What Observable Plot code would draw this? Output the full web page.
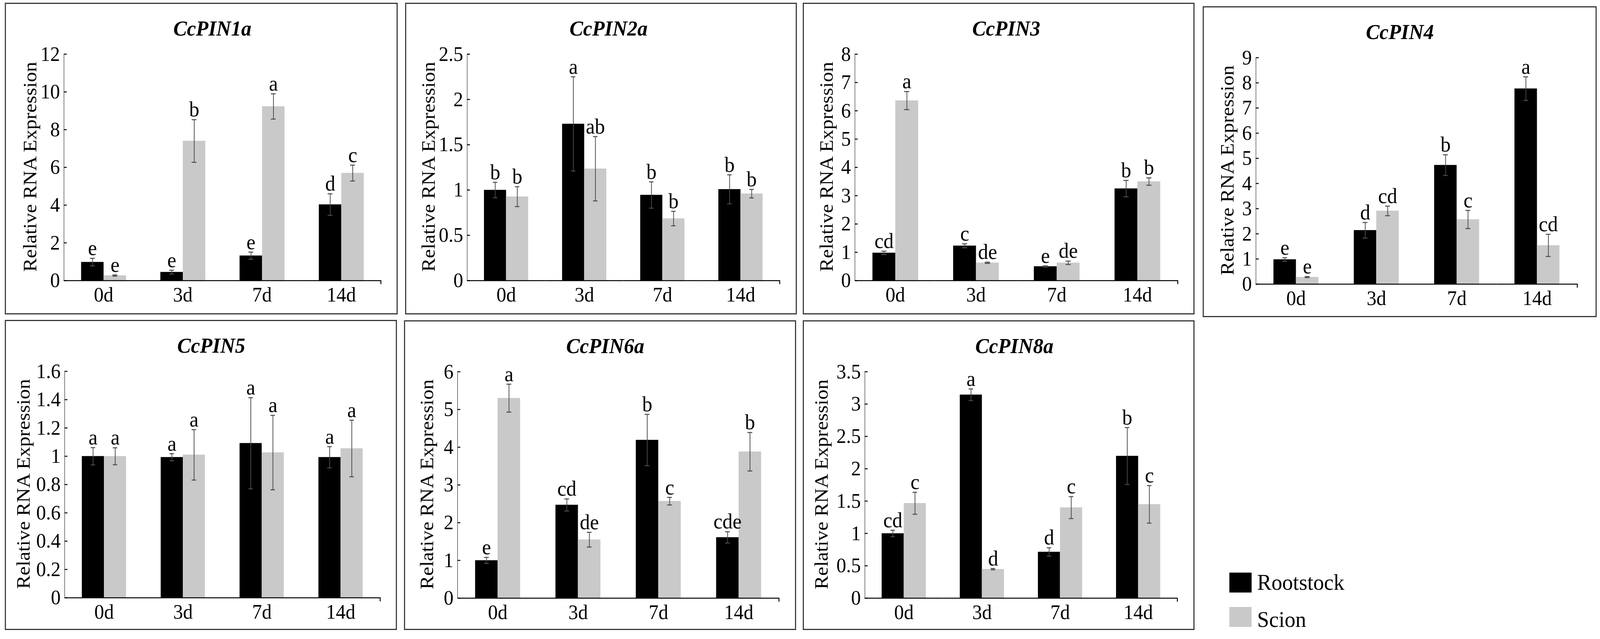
<!DOCTYPE html>
<html><head><meta charset="utf-8">
<script src="https://cdn.jsdelivr.net/npm/d3@7"></script>
<script src="https://cdn.jsdelivr.net/npm/@observablehq/plot@0.6"></script>
<style>
html,body{margin:0;padding:0;background:#fff;overflow:hidden;}
body{font-family:"Liberation Serif","Times New Roman",serif;color:#000;}
#root{position:absolute;left:0;top:0;width:4317px;height:1636px;transform-origin:0 0;overflow:hidden;background:#fff;}
.panel{position:absolute;border:3px solid #383838;box-sizing:border-box;background:#fff;}
.panel svg{position:absolute;left:-3px;top:-3px;}
.panel svg, .panel svg text{font-family:"Liberation Serif","Times New Roman",serif !important;}
.panel svg g[aria-label^="y-axis"] path, .panel svg g[aria-label^="y-axis"] line{stroke-width:2.5px;}
.title{position:absolute;font-family:"Liberation Serif",serif;font-weight:bold;font-style:italic;font-size:55px;line-height:55px;white-space:nowrap;transform:translateX(-50%);}
.ytitle{position:absolute;font-family:"Liberation Serif",serif;font-size:52px;line-height:52px;white-space:nowrap;transform:translate(-50%,-50%) rotate(-90deg);}
.leg{position:absolute;font-family:"Liberation Serif",serif;font-size:58px;line-height:58px;white-space:nowrap;}
.sw{position:absolute;width:60px;height:51px;}
</style></head><body>
<div id="root"></div>
<script>
// ---- data ----
const genes = ["CcPIN1a","CcPIN2a","CcPIN3","CcPIN4","CcPIN5","CcPIN6a","CcPIN8a"];
const days = ["0d","3d","7d","14d"];
const seriesNames = ["Rootstock","Scion"];
const rootstockMean = [
  [0.98, 0.45, 1.32, 4.03],
  [1.00, 1.73, 0.945, 1.008],
  [0.98, 1.23, 0.50, 3.25],
  [0.98, 2.14, 4.73, 7.77],
  [1.00, 0.993, 1.092, 0.993],
  [1.00, 2.47, 4.19, 1.61],
  [1.00, 3.144, 0.714, 2.197]
];
const scionMean = [
  [0.27, 7.40, 9.23, 5.70],
  [0.927, 1.235, 0.685, 0.96],
  [6.36, 0.63, 0.63, 3.50],
  [0.28, 2.91, 2.57, 1.54],
  [1.00, 1.01, 1.026, 1.055],
  [5.30, 1.55, 2.57, 3.88],
  [1.467, 0.448, 1.40, 1.45]
];
const rootstockErr = [
  [0.20, 0.10, 0.19, 0.57],
  [0.085, 0.52, 0.145, 0.16],
  [0.06, 0.07, 0.02, 0.29],
  [0.07, 0.31, 0.41, 0.47],
  [0.061, 0.025, 0.322, 0.075],
  [0.08, 0.16, 0.68, 0.15],
  [0.05, 0.09, 0.065, 0.44]
];
const scionErr = [
  [0.03, 1.13, 0.67, 0.42],
  [0.11, 0.355, 0.08, 0.047],
  [0.32, 0.02, 0.06, 0.13],
  [0.02, 0.19, 0.36, 0.44],
  [0.06, 0.178, 0.263, 0.20],
  [0.37, 0.195, 0.10, 0.51],
  [0.17, 0.01, 0.17, 0.29]
];
const rootstockLetters = [
  ["e","e","e","d"],
  ["b","a","b","b"],
  ["cd","c","e","b"],
  ["e","d","b","a"],
  ["a","a","a","a"],
  ["e","cd","b","cde"],
  ["cd","a","d","b"]
];
const scionLetters = [
  ["e","b","a","c"],
  ["b","ab","b","b"],
  ["a","de","de","b"],
  ["e","cd","c","cd"],
  ["a","a","a","a"],
  ["a","de","c","b"],
  ["c","d","c","c"]
];
const yMax = [12, 2.5, 8, 9, 1.6, 6, 3.5];
const yStep = [2, 0.5, 1, 1, 0.2, 1, 0.5];
const yAxisLabel = "Relative RNA Expression";

// ---- layout ----
const PAGE_W = 4317, PAGE_H = 1636;
const panelX = [13, 1093, 2166, 3245, 13, 1090, 2166];
const panelY = [7, 7, 7, 16, 819, 820, 820];
const panelW = [1060, 1057, 1057, 1063, 1058, 1058, 1057];
const panelH = [798, 798, 798, 796, 794, 793, 793];
const plotLeft = [159, 166, 141, 143, 162, 143, 166];
const plotRight = [1020, 1017, 1017, 1017, 1018, 1018, 1017];
const titleCx = [560, 549, 549, 532, 557, 543, 571];
const yTitleCx = [68, 63, 64, 66, 50, 62, 50];
const colors = ["#000000", "#c9c9c9"];
const errColor = "#4a4a4a";

const root = document.getElementById("root");
function fit() {
  const sx = Math.min(1, window.innerWidth / PAGE_W);
  const sy = Math.min(1, window.innerHeight / PAGE_H);
  root.style.transform = `scale(${sx}, ${sy})`;
}
fit();
window.addEventListener("resize", fit);

const endTick = {draw(context, l) { context.moveTo(0, 0); context.lineTo(0, l); }};

genes.forEach((gene, g) => {
  const panel = document.createElement("div");
  panel.className = "panel";
  Object.assign(panel.style, {left: panelX[g]+"px", top: panelY[g]+"px", width: panelW[g]+"px", height: panelH[g]+"px"});
  root.appendChild(panel);

  const data = days.flatMap((d, i) => seriesNames.map((s, j) => ({
    day: d, series: s,
    value: (j ? scionMean : rootstockMean)[g][i],
    err: (j ? scionErr : rootstockErr)[g][i],
    letter: (j ? scionLetters : rootstockLetters)[g][i]
  })));
  const ticks = d3.range(0, yMax[g] + 1e-9, yStep[g]).map(v => +v.toFixed(2));
  const W = panelW[g];
  const svg = Plot.plot({
    width: W, height: 790,
    marginTop: 132, marginBottom: 75, marginLeft: plotLeft[g], marginRight: W - plotRight[g],
    style: {fontFamily: '"Liberation Serif", "Times New Roman", serif', fontSize: "53px", color: "#000", background: "transparent", overflow: "visible"},
    fx: {domain: days, padding: 0, axis: "bottom", label: null, tickSize: 0, tickPadding: 16},
    x: {domain: seriesNames, paddingInner: 0, paddingOuter: 0.76, axis: null},
    y: {domain: [0, yMax[g]], ticks, tickFormat: d => String(d), tickSize: -8, tickPadding: 19, label: null, line: true},
    color: {domain: seriesNames, range: colors},
    marks: [
      Plot.barY(data, {fx: "day", x: "series", y: "value", fill: "series"}),
      Plot.ruleX(data, {fx: "day", x: "series", y1: d => d.value - d.err, y2: d => d.value + d.err, stroke: errColor, strokeWidth: 2}),
      Plot.tickY(data, {fx: "day", x: "series", y: d => d.value + d.err, stroke: errColor, strokeWidth: 2.5, insetLeft: 24, insetRight: 24}),
      Plot.tickY(data, {fx: "day", x: "series", y: d => d.value - d.err, stroke: errColor, strokeWidth: 2.5, insetLeft: 24, insetRight: 24}),
      Plot.text(data, {fx: "day", x: "series", y: d => d.value + d.err, text: "letter", lineAnchor: "bottom", dy: -8, fontSize: 55}),
      Plot.ruleY([0], {stroke: "#000", strokeWidth: 2.5}),
      Plot.vector([days[days.length - 1]], {fx: d => d, frameAnchor: "bottom-right", length: 8, anchor: "start", shape: endTick, stroke: "#000", strokeWidth: 2.5})
    ]
  });
  panel.appendChild(svg);

  const t = document.createElement("div");
  t.className = "title";
  t.textContent = gene;
  Object.assign(t.style, {left: (titleCx[g]-3)+"px", top: "35px"});
  panel.appendChild(t);

  const yt = document.createElement("div");
  yt.className = "ytitle";
  yt.textContent = yAxisLabel;
  Object.assign(yt.style, {left: (yTitleCx[g]-3)+"px", top: "417px"});
  panel.appendChild(yt);
});

// legend
seriesNames.forEach((s, j) => {
  const sw = document.createElement("div");
  sw.className = "sw";
  Object.assign(sw.style, {left: "3317px", top: (j ? 1554 : 1466)+"px", background: colors[j]});
  root.appendChild(sw);
  const lt = document.createElement("div");
  lt.className = "leg";
  lt.textContent = s;
  Object.assign(lt.style, {left: "3392px", top: (j ? 1557 : 1462)+"px"});
  root.appendChild(lt);
});
</script></body></html>
